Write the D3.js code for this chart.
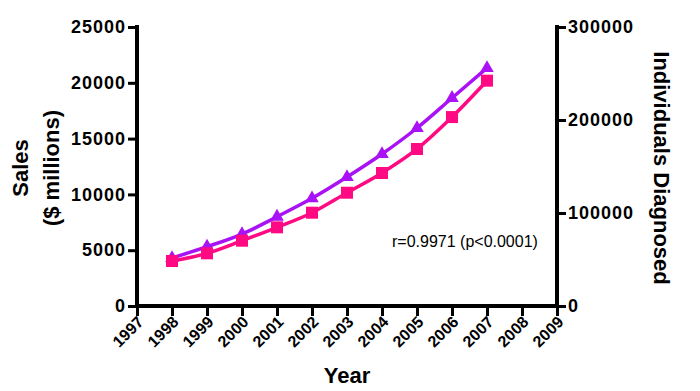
<!DOCTYPE html>
<meta charset="utf-8">
<head>
  <style>
    body { margin: 0; background: #fff; }
    text { font-family: "Liberation Sans", Arial, sans-serif; }
  </style>
</head>
<body>
  <div class="chart"></div>
  <script src="https://d3js.org/d3.v7.min.js"></script>
  <script>
    // data
    var years = [1998, 1999, 2000, 2001, 2002, 2003, 2004, 2005, 2006, 2007];
    var sales = [4030, 4720, 5850, 7050, 8360, 10150, 11920, 14070, 16930, 20190];      // $ millions (left axis)
    var diagnosed = [51600, 63800, 77400, 96000, 115800, 138700, 163400, 191400, 223700, 255900]; // right axis
    var yearTicks = d3.range(1997, 2010);
    var leftTicks = [0, 5000, 10000, 15000, 20000, 25000];
    var rightTicks = [0, 100000, 200000, 300000];
    var note = "r=0.9971 (p<0.0001)";

    var width = 700, height = 391;
    var x0 = 137, x1 = 557, yTop = 27, yBot = 306;
    var pink = "#ff0a82", purple = "#a812f5";

    var svg = d3.select(".chart").append("svg")
      .attr("width", width)
      .attr("height", height);

    var x = d3.scaleLinear().domain([1997, 2009]).range([x0, x1]);
    var yL = d3.scaleLinear().domain([0, 25000]).range([yBot, yTop]);
    var yR = d3.scaleLinear().domain([0, 300000]).range([yBot, yTop]);

    // axes
    var axL = svg.append("g").attr("transform", "translate(" + x0 + ",0)")
      .call(d3.axisLeft(yL).tickValues(leftTicks).tickSize(9).tickSizeOuter(0).tickPadding(2).tickFormat(d3.format("d")));
    var axR = svg.append("g").attr("transform", "translate(" + x1 + ",0)")
      .call(d3.axisRight(yR).tickValues(rightTicks).tickSize(9).tickSizeOuter(0).tickPadding(2).tickFormat(d3.format("d")));
    var axB = svg.append("g").attr("transform", "translate(0," + yBot + ")")
      .call(d3.axisBottom(x).tickValues(yearTicks).tickSize(10).tickSizeOuter(0).tickFormat(d3.format("d")));

    [axL, axR, axB].forEach(function (g) {
      g.select(".domain").attr("stroke", "#000").attr("stroke-width", 4);
      g.selectAll(".tick line").attr("stroke", "#000").attr("stroke-width", 3);
      g.selectAll(".tick text")
        .attr("fill", "#000")
        .style("font-family", "Liberation Sans, Arial, sans-serif")
        .style("font-weight", "bold")
        .style("font-size", "18px")
        .style("letter-spacing", "1px");
    });
    // extend the domains slightly so the corners meet
    axL.select(".domain").attr("d", "M0," + (yTop - 2) + "V" + (yBot + 2));
    axR.select(".domain").attr("d", "M0," + (yTop - 2) + "V" + (yBot + 2));
    axB.select(".domain").attr("d", "M" + (x0 - 2) + ",0H" + (x1 + 2));

    axB.selectAll(".tick text")
      .style("font-size", "16px")
      .style("letter-spacing", "0px")
      .attr("text-anchor", "end")
      .attr("dy", null)
      .attr("y", null)
      .attr("transform", "translate(7,17) rotate(-45)");

    // axis titles
    svg.append("text")
      .attr("transform", "translate(28,168) rotate(-90)")
      .attr("text-anchor", "middle")
      .style("font-weight", "bold").style("font-size", "22px")
      .text("Sales");
    svg.append("text")
      .attr("transform", "translate(59,168) rotate(-90)")
      .attr("text-anchor", "middle")
      .style("font-weight", "bold").style("font-size", "22px")
      .text("($ millions)");
    svg.append("text")
      .attr("transform", "translate(654,168) rotate(90)")
      .attr("text-anchor", "middle")
      .style("font-weight", "bold").style("font-size", "22px")
      .text("Individuals Diagnosed");
    svg.append("text")
      .attr("x", (x0 + x1) / 2)
      .attr("y", 383)
      .attr("text-anchor", "middle")
      .style("font-weight", "bold").style("font-size", "22px")
      .text("Year");

    // series
    var salesPts = years.map(function (d, i) { return [x(d), yL(sales[i])]; });
    var diagPts = years.map(function (d, i) { return [x(d), yR(diagnosed[i])]; });
    var line = d3.line().curve(d3.curveMonotoneX);

    svg.append("path").attr("d", line(diagPts))
      .attr("fill", "none").attr("stroke", purple).attr("stroke-width", 3.5);
    svg.append("path").attr("d", line(salesPts))
      .attr("fill", "none").attr("stroke", pink).attr("stroke-width", 3.5);

    svg.selectAll(".tri").data(diagPts).enter().append("path")
      .attr("class", "tri")
      .attr("transform", function (d) { return "translate(" + d[0] + "," + d[1] + ")"; })
      .attr("d", d3.symbol().type(d3.symbolTriangle).size(80))
      .attr("fill", purple);
    svg.selectAll(".sq").data(salesPts).enter().append("path")
      .attr("class", "sq")
      .attr("transform", function (d) { return "translate(" + d[0] + "," + d[1] + ")"; })
      .attr("d", d3.symbol().type(d3.symbolSquare).size(144))
      .attr("fill", pink);

    svg.append("text")
      .attr("x", 392).attr("y", 247)
      .style("font-size", "16px")
      .text(note);
  </script>
</body>
